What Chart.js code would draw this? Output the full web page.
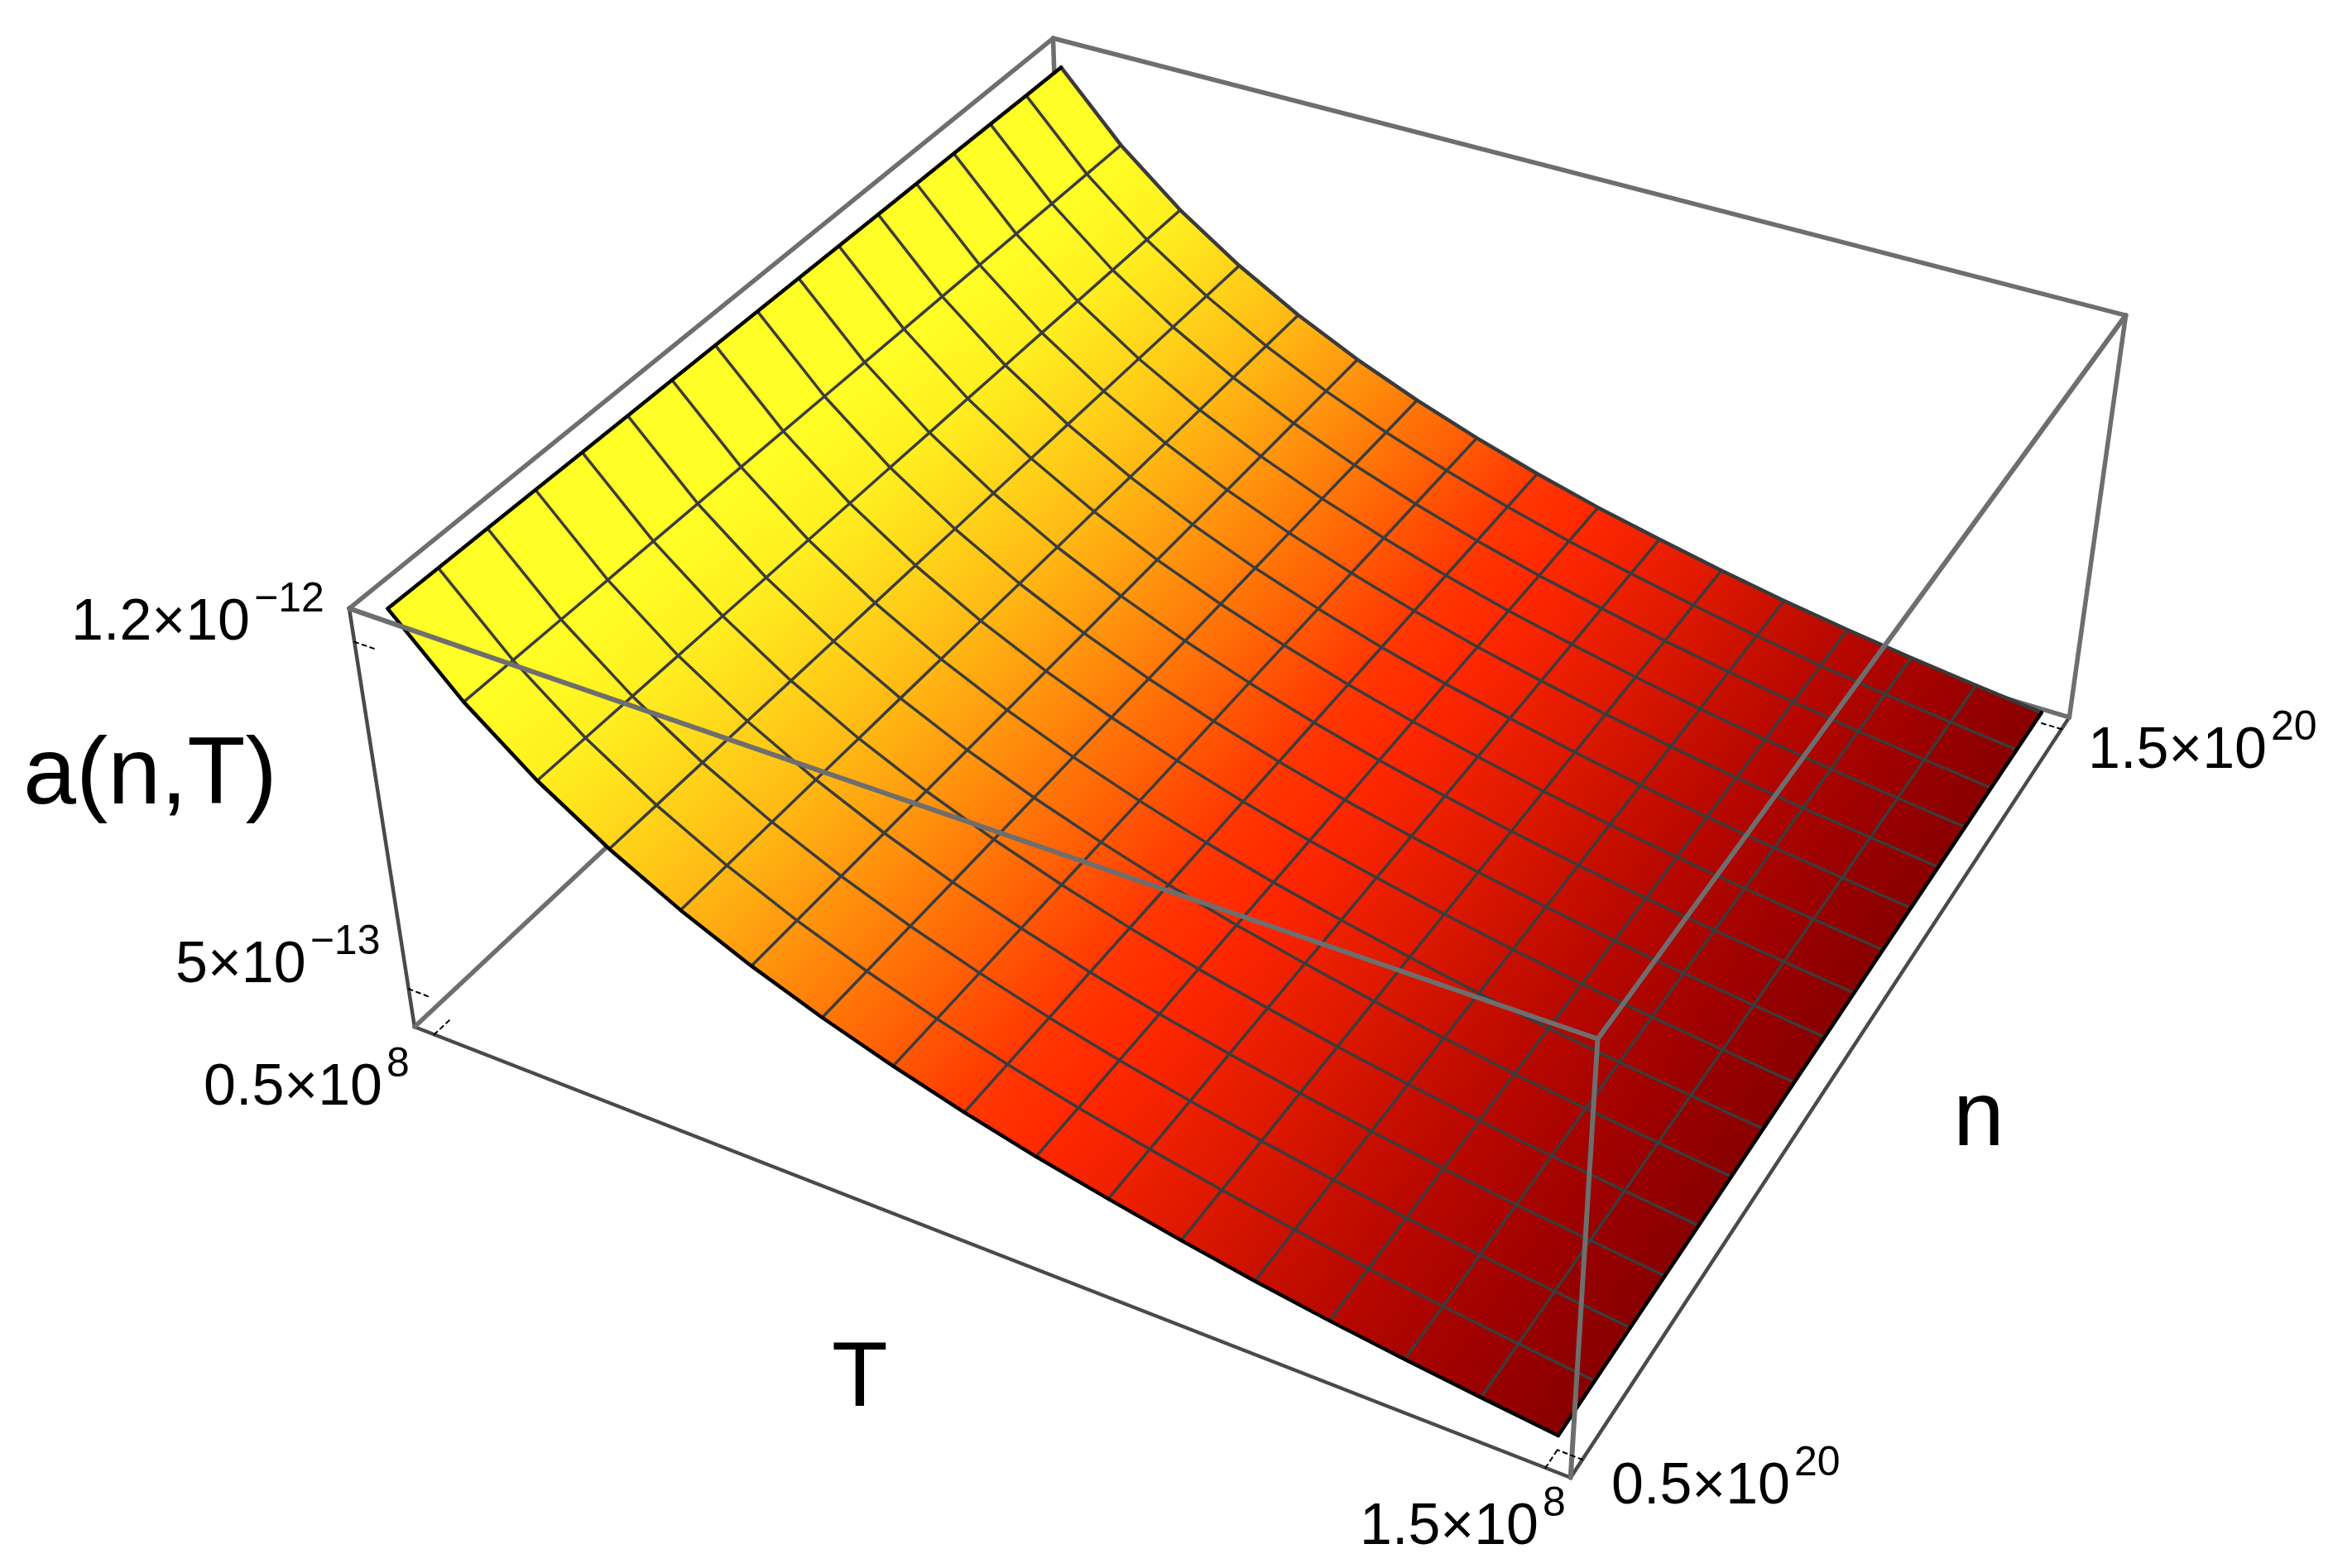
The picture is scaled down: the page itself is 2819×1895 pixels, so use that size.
<!DOCTYPE html>
<html>
<head>
<meta charset="utf-8">
<style>
  html, body { margin: 0; padding: 0; background: #fff; }
  canvas { display: block; }
</style>
<script src="https://cdn.jsdelivr.net/npm/chart.js@4/dist/chart.umd.js"></script>
</head>
<body>
<canvas id="chart" width="2819" height="1895"></canvas>
<script>
// surface mesh nodes
const tNodes = [0.5, 0.5625, 0.625, 0.6875, 0.75, 0.8125, 0.875, 0.9375, 1, 1.0625, 1.125, 1.1875, 1.25, 1.3125, 1.375, 1.4375, 1.5]; // x 1e8
const nNodes = [0.5, 0.5625, 0.625, 0.6875, 0.75, 0.8125, 0.875, 0.9375, 1, 1.0625, 1.125, 1.1875, 1.25, 1.3125, 1.375, 1.4375, 1.5]; // x 1e20
const aByT = [12.51, 11.17, 10.1, 9.23, 8.5, 7.88, 7.35, 6.89, 6.48, 6.12, 5.81, 5.52, 5.26, 5.03, 4.83, 4.65, 4.48]; // x 1e-13, at n = 0.5e20
const nFactor = [1, 0.999, 0.998, 0.997, 0.996, 0.995, 0.994, 0.993, 0.992, 0.991, 0.99, 0.989, 0.988, 0.987, 0.986, 0.985, 0.984];
const colorByT = ['#ffff28', '#ffff26', '#ffef20', '#ffd41a', '#ffb814', '#ff980e', '#ff7808', '#ff5804', '#ff3802', '#ff2800', '#ee2000', '#dc1800', '#c81000', '#b80800', '#a80400', '#980000', '#880000'];

const tTicks = [0.5, 1.5];
const nTicks = [0.5, 1.5];
const aTicks = [12, 5];

// plot box limits
const tRange = [0.48, 1.52];
const nRange = [0.48, 1.52];
const aRange = [4.18, 12.63];

// where the box corners land on the page: [t, n, a, pageX, pageY]
const camera = [
  [0, 0, 1, 422, 735], [0, 0, 0, 501, 1239], [1, 0, 0, 1899, 1786], [1, 0, 1, 1929, 1258],
  [1, 1, 1, 2567, 383], [1, 1, 0, 2502, 863], [0, 1, 1, 1275, 43], [0, 1, 0, 1285, 510]
];

function solveCamera() {
  const rows = [], rhs = [];
  camera.forEach(([u, v, w, x, y]) => {
    x /= 1000; y /= 1000;
    rows.push([u, v, w, 1, 0, 0, 0, 0, -x * u, -x * v, -x * w]); rhs.push(x);
    rows.push([0, 0, 0, 0, u, v, w, 1, -y * u, -y * v, -y * w]); rhs.push(y);
  });
  const m = [];
  for (let i = 0; i < 11; i++) {
    const r = [];
    for (let j = 0; j < 11; j++) r.push(rows.reduce((s, row) => s + row[i] * row[j], 0));
    r.push(rows.reduce((s, row, k) => s + row[i] * rhs[k], 0));
    m.push(r);
  }
  for (let i = 0; i < 11; i++) {
    let p = i;
    for (let k = i + 1; k < 11; k++) if (Math.abs(m[k][i]) > Math.abs(m[p][i])) p = k;
    [m[i], m[p]] = [m[p], m[i]];
    for (let k = 0; k < 11; k++) {
      if (k === i) continue;
      const f = m[k][i] / m[i][i];
      for (let c = i; c < 12; c++) m[k][c] -= f * m[i][c];
    }
  }
  return m.map((r, i) => r[11] / r[i]);
}
const cam = solveCamera();

function project(t, n, a) {
  const u = (t - tRange[0]) / (tRange[1] - tRange[0]);
  const v = (n - nRange[0]) / (nRange[1] - nRange[0]);
  const w = (a - aRange[0]) / (aRange[1] - aRange[0]);
  const d = cam[8] * u + cam[9] * v + cam[10] * w + 1;
  return {
    x: 1000 * (cam[0] * u + cam[1] * v + cam[2] * w + cam[3]) / d,
    y: 1000 * (cam[4] * u + cam[5] * v + cam[6] * w + cam[7]) / d
  };
}

const node = (i, j) => project(tNodes[i], nNodes[j], aByT[i] * nFactor[j]);

function lineSet(data, color, width, order, dash) {
  return { data, showLine: true, fill: false, borderColor: color, borderWidth: width, borderDash: dash || [],
    pointRadius: 0, tension: 0, order, borderCapStyle: 'round', borderJoinStyle: 'round' };
}

// colour runs along T, so each cell's gradient is set square to its constant-T edges
function cellGradient(chart, i, j) {
  const sx = chart.scales.x, sy = chart.scales.y;
  const px = p => ({ x: sx.getPixelForValue(p.x), y: sy.getPixelForValue(p.y) });
  const a0 = px(node(i, j)), a1 = px(node(i, j + 1)), b0 = px(node(i + 1, j)), b1 = px(node(i + 1, j + 1));
  if (![a0.x, a0.y, a1.x, a1.y, b0.x, b0.y].every(Number.isFinite)) return colorByT[i]; // scales not laid out yet
  const mx = (a0.x + a1.x) / 2, my = (a0.y + a1.y) / 2;
  const ex = a1.x - a0.x, ey = a1.y - a0.y, len = Math.hypot(ex, ey);
  const nx = -ey / len, ny = ex / len;
  const dist = ((b0.x + b1.x) / 2 - mx) * nx + ((b0.y + b1.y) / 2 - my) * ny;
  const g = chart.ctx.createLinearGradient(mx, my, mx + nx * dist, my + ny * dist);
  g.addColorStop(0, colorByT[i]);
  g.addColorStop(1, colorByT[i + 1]);
  return g;
}

const datasets = [];
const edgeGrey = '#6e6e6e';
const tLow = tRange[0], tHigh = tRange[1], nLow = nRange[0], nHigh = nRange[1], aLow = aRange[0], aHigh = aRange[1];

// box edges behind the surface
[
  [[tLow, nLow, aHigh], [tLow, nHigh, aHigh]],
  [[tLow, nHigh, aHigh], [tHigh, nHigh, aHigh]],
  [[tHigh, nHigh, aHigh], [tHigh, nHigh, aLow]],
  [[tLow, nHigh, aHigh], [tLow, nHigh, aLow]],
  [[tLow, nLow, aLow], [tLow, nHigh, aLow]],
  [[tLow, nHigh, aLow], [tHigh, nHigh, aLow]]
].forEach(e => datasets.push(lineSet(e.map(p => project(...p)), edgeGrey, 5.5, 6)));
[
  [[tLow, nLow, aHigh], [tLow, nLow, aLow]],
  [[tLow, nLow, aLow], [tHigh, nLow, aLow]],
  [[tHigh, nLow, aLow], [tHigh, nHigh, aLow]]
].forEach(e => datasets.push(lineSet(e.map(p => project(...p)), '#4a4a4a', 4.5, 6)));

// surface cells
for (let i = 0; i < tNodes.length - 1; i++) {
  for (let j = 0; j < nNodes.length - 1; j++) {
    datasets.push({
      data: [node(i, j), node(i, j + 1), node(i + 1, j + 1), node(i + 1, j), node(i, j)],
      showLine: true, fill: 'shape', borderWidth: 0, pointRadius: 0, tension: 0, order: 5,
      backgroundColor: c => cellGradient(c.chart, i, j)
    });
  }
}

// mesh
for (let i = 1; i < tNodes.length - 1; i++) datasets.push(lineSet(nNodes.map((_, j) => node(i, j)), '#3c3c3c', 3.5, 4));
for (let j = 1; j < nNodes.length - 1; j++) datasets.push(lineSet(tNodes.map((_, i) => node(i, j)), '#3c3c3c', 3.5, 4));

// surface outline
const last = tNodes.length - 1;
datasets.push(lineSet(nNodes.map((_, j) => node(0, j)), '#000000', 4.5, 3));
datasets.push(lineSet(nNodes.map((_, j) => node(last, j)), '#000000', 4.5, 3));
datasets.push(lineSet(tNodes.map((_, i) => node(i, 0)), '#000000', 4.5, 3));
datasets.push(lineSet(tNodes.map((_, i) => node(i, last)), '#3a3a3a', 4.5, 3));

// box edges in front of the surface
[
  [[tLow, nLow, aHigh], [tHigh, nLow, aHigh]],
  [[tHigh, nLow, aHigh], [tHigh, nHigh, aHigh]],
  [[tHigh, nLow, aHigh], [tHigh, nLow, aLow]]
].forEach(e => datasets.push(lineSet(e.map(p => project(...p)), edgeGrey, 6, 2)));

// tick marks, dotted
const tickDash = [5, 5];
aTicks.forEach(a => datasets.push(lineSet([project(tLow, nLow, a), project(tLow + 0.02, nLow, a)], '#000000', 2, 1, tickDash)));
tTicks.forEach(t => datasets.push(lineSet([project(t, nLow, aLow), project(t, nLow + 0.02, aLow)], '#000000', 2, 1, tickDash)));
nTicks.forEach(n => datasets.push(lineSet([project(tHigh, n, aLow), project(tHigh - 0.02, n, aLow)], '#000000', 2, 1, tickDash)));

// labels: page position of the left end and the baseline
const tickLabels = [
  { base: '1.2×10', sup: '−12', x: 86, y: 773 },
  { base: '5×10', sup: '−13', x: 212, y: 1187 },
  { base: '0.5×10', sup: '8', x: 246, y: 1335 },
  { base: '1.5×10', sup: '8', x: 1643, y: 1866 },
  { base: '0.5×10', sup: '20', x: 1947, y: 1817 },
  { base: '1.5×10', sup: '20', x: 2523, y: 928 }
];
const axisTitles = [
  { text: 'a(n,T)', x: 28, y: 971, size: 115 },
  { text: 'T', x: 1005, y: 1699, size: 111 },
  { text: 'n', x: 2360, y: 1384, size: 111 }
];
const fontFamily = '"Liberation Sans", Arial, sans-serif';

const textPlugin = {
  id: 'plotText',
  afterDatasetsDraw(chart) {
    const { ctx, scales: { x, y } } = chart;
    ctx.save();
    ctx.fillStyle = '#000';
    ctx.textBaseline = 'alphabetic';
    ctx.textAlign = 'left';
    tickLabels.forEach(l => {
      const px = x.getPixelForValue(l.x), py = y.getPixelForValue(l.y);
      ctx.font = '70px ' + fontFamily;
      ctx.fillText(l.base, px, py);
      const w = ctx.measureText(l.base).width;
      ctx.font = '50px ' + fontFamily;
      ctx.fillText(l.sup, px + w + 5, py - 34);
    });
    axisTitles.forEach(l => {
      ctx.font = l.size + 'px ' + fontFamily;
      ctx.fillText(l.text, x.getPixelForValue(l.x), y.getPixelForValue(l.y));
    });
    ctx.restore();
  }
};

new Chart(document.getElementById('chart'), {
  type: 'scatter',
  data: { datasets },
  plugins: [textPlugin],
  options: {
    responsive: false,
    devicePixelRatio: 1,
    animation: false,
    layout: { padding: 0 },
    plugins: { legend: { display: false }, tooltip: { enabled: false } },
    events: [],
    scales: {
      x: { type: 'linear', display: false, min: 0, max: 2819 },
      y: { type: 'linear', display: false, min: 0, max: 1895, reverse: true }
    }
  }
});
</script>
</body>
</html>
